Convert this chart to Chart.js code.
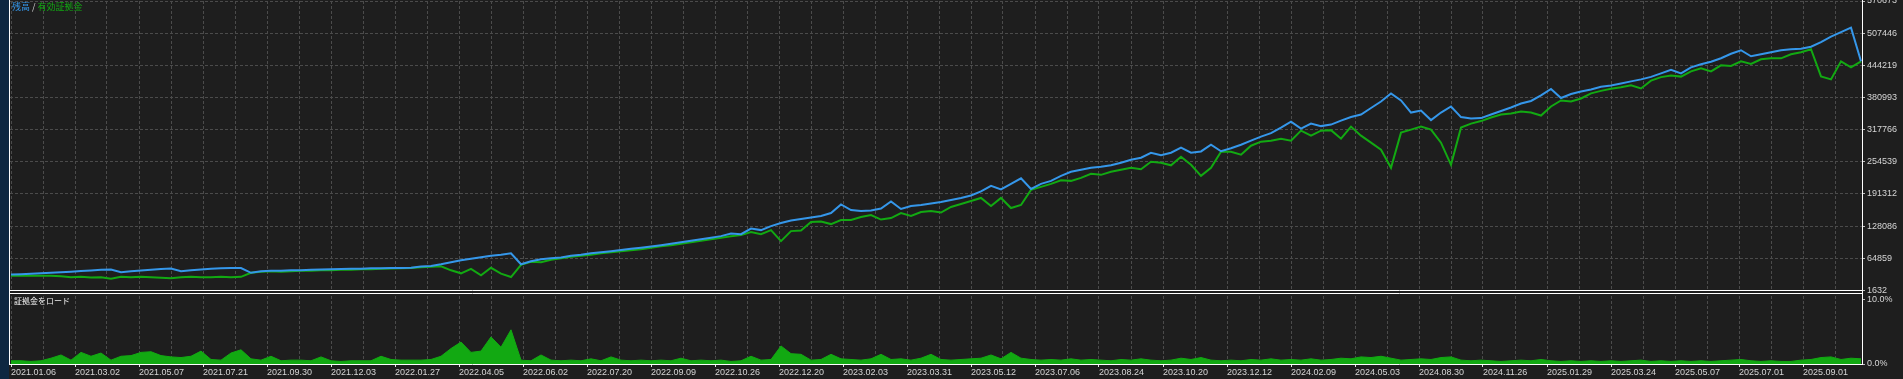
<!DOCTYPE html>
<html>
<head>
<meta charset="utf-8">
<script src="https://cdn.jsdelivr.net/npm/chart.js@4.4.1/dist/chart.umd.min.js"></script>
<style>
  html, body { margin: 0; padding: 0; background: #1e1e1e; overflow: hidden; width: 1903px; height: 379px; }
  #wrap { position: absolute; left: 0; top: -7px; width: 1903px; height: 386px; }
  canvas { display: block; }
</style>
</head>
<body>
<div id="wrap"><canvas id="c" width="1903" height="386"></canvas></div>
<script>
// ---------- data ----------
const DATE_LABELS = [
  '2021.01.06','2021.03.02','2021.05.07','2021.07.21','2021.09.30','2021.12.03','2022.01.27',
  '2022.04.05','2022.06.02','2022.07.20','2022.09.09','2022.10.26','2022.12.20','2023.02.03',
  '2023.03.31','2023.05.12','2023.07.06','2023.08.24','2023.10.20','2023.12.12','2024.02.09',
  '2024.05.03','2024.08.30','2024.11.26','2025.01.29','2025.03.24','2025.05.07','2025.07.01',
  '2025.09.01'
];
const PRICE_TICKS = [1632, 64859, 128086, 191312, 254539, 317766, 380993, 444219, 507446, 570673];
const LOAD_TICKS = [0, 10];

// balance (残高)
const BALANCE = [
  32652, 33245, 34233, 35221, 36209, 37196, 38184, 39567, 40753, 42136,
  42531, 37196, 39172, 40555, 42136, 43519, 44507, 39172, 41148, 42531,
  44112, 45100, 45692, 45692, 36209, 39172, 40160, 40160, 41148, 41148,
  42136, 42531, 43124, 43717, 44112, 44112, 45100, 45100, 45692, 45692,
  46088, 48458, 49644, 53003, 56954, 60906, 63870, 66833, 69797, 71773,
  74737, 53003, 58930, 62882, 64858, 66241, 69797, 71773, 74737, 76712,
  78688, 81059, 83628, 85604, 87974, 90543, 93507, 96470, 99434, 102398,
  105362, 108325, 113265, 112277, 123144, 120180, 128083, 134011, 138950, 141914,
  144878, 147841, 153769, 170563, 159696, 157720, 158708, 162660, 176490, 161672,
  167599, 169575, 172539, 175502, 179454, 183406, 188345, 196248, 207115, 200200,
  211067, 221934, 201188, 211067, 216994, 226873, 234776, 238728, 242680, 244655,
  247619, 252559, 258486, 262438, 272317, 267377, 272317, 282196, 272317, 274885,
  288123, 275280, 281208, 288123, 296026, 303929, 310845, 321712, 333566, 319736,
  329615, 324675, 327639, 335542, 342458, 347397, 360240, 373082, 388889, 375058,
  351349, 355300, 336530, 351349, 363203, 342458, 339494, 340482, 347397, 354312,
  361228, 369131, 374070, 384937, 397780, 379998, 387901, 392840, 396792, 402127,
  404695, 408647, 412598, 416550, 421490, 428405, 435320, 428405, 440260, 446187,
  451127, 458042, 466933, 473848, 461993, 465945, 469897, 473848, 475824, 476812,
  480764, 489655, 500522, 509413, 518304, 452114
];

// equity (有効証拠金)
const EQUITY = [
  30676, 30676, 30281, 30281, 30676, 29293, 27317, 28305, 26922, 27317,
  24749, 28305, 27713, 28305, 27317, 26330, 25737, 27317, 28305, 27317,
  27713, 28305, 27317, 28305, 36209, 38184, 39172, 38184, 39172, 40160,
  40160, 41148, 41148, 42136, 42136, 43124, 43124, 44112, 44704, 45100,
  45692, 47075, 48063, 49051, 41148, 35221, 44112, 31269, 46088, 34628,
  27910, 52015, 57942, 56954, 61894, 64858, 67821, 69797, 71773, 74737,
  76712, 78688, 80664, 82640, 85604, 88567, 90543, 93507, 96470, 99434,
  102398, 105362, 108325, 110301, 116228, 112277, 120180, 98446, 118204, 119192,
  135986, 136974, 132035, 139938, 139938, 145865, 149817, 140926, 143890, 153769,
  147841, 155744, 157720, 154757, 165623, 171551, 177478, 183406, 167599, 183406,
  163648, 169575, 199212, 205139, 211067, 217982, 216994, 222922, 230825, 228849,
  234776, 238728, 242680, 239716, 254534, 252559, 247619, 264413, 248607, 226873,
  242680, 274292, 274292, 268365, 286147, 294050, 296026, 299978, 296026, 315784,
  305905, 315784, 316772, 299978, 323687, 305905, 292075, 278244, 242680, 311833,
  317760, 323687, 317760, 292075, 248607, 321712, 329615, 334554, 341470, 347397,
  349373, 353324, 351349, 345421, 363203, 375058, 373082, 379010, 389000, 394000,
  398000, 401000, 405000, 398768, 414000, 421000, 424000, 422000, 432356, 438284,
  432356, 444211, 443000, 452114, 447000, 456066, 458042, 458000, 465945, 469897,
  475824, 422477, 416550, 452114, 440260, 452114
];

// deposit load, percent (証拠金をロード)
const LOAD = [
  0.5, 0.5, 0.4, 0.5, 0.9, 1.4, 0.6, 1.8, 1.2, 1.7,
  0.6, 1.2, 1.3, 1.8, 1.9, 1.3, 1.1, 1.0, 1.2, 2.0,
  0.7, 0.6, 1.7, 2.2, 0.8, 0.6, 1.2, 0.5, 0.6, 0.6,
  0.5, 1.1, 0.5, 0.4, 0.5, 0.5, 0.5, 1.2, 0.7, 0.6,
  0.6, 0.6, 0.7, 1.2, 2.4, 3.4, 1.8, 2.0, 4.2, 2.6,
  5.3, 0.6, 0.5, 1.4, 0.6, 0.5, 0.6, 0.5, 0.8, 0.5,
  1.1, 0.6, 0.5, 0.6, 0.5, 0.6, 0.5, 0.9, 0.5, 0.6,
  0.5, 0.6, 0.4, 0.5, 1.2, 0.6, 0.7, 2.8, 1.6, 1.5,
  0.6, 0.7, 1.5, 0.8, 0.7, 0.6, 0.8, 1.5, 0.7, 0.8,
  0.6, 0.9, 1.5, 0.7, 0.6, 0.7, 0.8, 0.9, 1.4, 0.8,
  1.8, 0.9, 0.7, 0.6, 0.7, 0.6, 0.8, 0.6, 0.7, 0.6,
  0.5, 0.7, 0.6, 0.8, 0.6, 0.5, 0.6, 0.9, 0.7, 1.0,
  0.6, 0.5, 0.6, 0.5, 0.7, 0.6, 0.8, 0.6, 0.7, 0.6,
  0.8, 0.6, 0.7, 0.9, 0.8, 1.1, 1.0, 1.2, 0.9, 0.6,
  0.7, 0.8, 0.7, 1.0, 1.1, 0.6, 0.5, 0.6, 0.5, 0.4,
  0.5, 0.6, 0.5, 0.7, 0.5, 0.4, 0.5, 0.4, 0.5, 0.4,
  0.5, 0.4, 0.5, 0.6, 0.4, 0.5, 0.4, 0.5, 0.4, 0.5,
  0.4, 0.5, 0.6, 0.7, 0.5, 0.4, 0.5, 0.4, 0.4, 0.6,
  0.7, 1.0, 1.1, 0.7, 0.9, 0.8
];

// ---------- styling ----------
const BG = '#1e1e1e';
const GRID = '#4b4b4b';
const TEXT = '#d6d6d6';
const BLUE = '#3597ea';
const GREEN = '#12a912';
const AXIS_FONT = { family: '"Liberation Sans", Arial, sans-serif', size: 9 };
const CJK = '"Noto Sans CJK JP", "Noto Sans CJK SC", sans-serif';

const N = BALANCE.length;
const GRID_STEP = 3.2;               // samples between vertical grid lines
const gridValues = [];
for (let k = 0; k * GRID_STEP <= N - 1; k++) gridValues.push(+(k * GRID_STEP).toFixed(3));

const toXY = arr => arr.map((v, i) => ({ x: i, y: v }));

const framePlugin = {
  id: 'frame',
  beforeDraw(chart) {
    const { ctx, width, height } = chart;
    ctx.save();
    ctx.fillStyle = BG;
    ctx.fillRect(0, 0, width, height);
    ctx.fillStyle = '#0e2741';
    ctx.fillRect(0, 0, 9, height);
    ctx.restore();
  },
  afterDatasetsDraw(chart) {
    const { ctx, chartArea: a, scales } = chart;
    const sep = Math.floor(scales.yMain.bottom);
    ctx.save();
    // separator between panels
    ctx.fillStyle = BG;
    ctx.fillRect(a.left, sep + 1, a.right - a.left, 2);
    ctx.strokeStyle = '#ffffff';
    ctx.lineWidth = 1;
    ctx.beginPath();
    ctx.moveTo(a.left - 1, sep + 0.5); ctx.lineTo(a.right + 1, sep + 0.5);
    ctx.moveTo(a.left - 1, sep + 3.5); ctx.lineTo(a.right + 1, sep + 3.5);
    // left / right / bottom frame
    ctx.moveTo(a.left - 0.5, 0); ctx.lineTo(a.left - 0.5, a.bottom + 1);
    ctx.moveTo(a.right + 0.5, 0); ctx.lineTo(a.right + 0.5, a.bottom + 1);
    ctx.moveTo(a.left - 1, a.bottom + 0.5); ctx.lineTo(a.right + 1, a.bottom + 0.5);
    ctx.stroke();

    // panel captions
    ctx.font = '9px ' + CJK;
    ctx.textBaseline = 'middle';
    ctx.textAlign = 'left';
    let x = a.left + 2;
    const y = a.top + 6;
    ctx.fillStyle = BLUE; ctx.fillText('残高', x, y); x += ctx.measureText('残高').width;
    ctx.fillStyle = '#d0d0d0'; ctx.fillText(' / ', x, y); x += ctx.measureText(' / ').width;
    ctx.fillStyle = GREEN; ctx.fillText('有効証拠金', x, y);
    ctx.fillStyle = '#f0f0f0';
    ctx.font = '8px ' + CJK;
    ctx.fillText('証拠金をロード', a.left + 4, sep + 11);
    ctx.restore();
  }
};

new Chart(document.getElementById('c'), {
  type: 'line',
  data: {
    datasets: [
      { label: '残高', data: toXY(BALANCE), xAxisID: 'x', yAxisID: 'yMain',
        borderColor: BLUE, borderWidth: 2, pointRadius: 0, tension: 0, fill: false },
      { label: '有効証拠金', data: toXY(EQUITY), xAxisID: 'x', yAxisID: 'yMain',
        borderColor: GREEN, borderWidth: 2, pointRadius: 0, tension: 0, fill: false },
      { label: '証拠金をロード', data: toXY(LOAD), xAxisID: 'x', yAxisID: 'yLoad',
        borderColor: GREEN, backgroundColor: GREEN, borderWidth: 1, pointRadius: 0,
        tension: 0, fill: 'origin' }
    ]
  },
  options: {
    responsive: false,
    animation: false,
    devicePixelRatio: 1,
    events: [],
    layout: { padding: { left: 10, top: 8, right: 0, bottom: 0 } },
    plugins: { legend: { display: false }, tooltip: { enabled: false }, title: { display: false } },
    scales: {
      x: {
        type: 'linear', min: -0.1, max: N - 0.9,
        afterBuildTicks: s => { s.ticks = gridValues.map(v => ({ value: v })); },
        afterFit: s => { s.height = 15; },
        grid: { color: GRID, lineWidth: 1, drawTicks: true, tickLength: 3,
                tickColor: c => (c.index % 2 === 0 ? '#e6e6e6' : 'rgba(0,0,0,0)') },
        border: { display: false, dash: [3, 2] },
        ticks: { autoSkip: false, maxRotation: 0, minRotation: 0, align: 'start', padding: 0,
                 color: TEXT, font: AXIS_FONT,
                 callback: (v, i) => (i % 2 === 0 ? (DATE_LABELS[i / 2] || '') : '') }
      },
      yMain: {
        type: 'linear', position: 'right', stack: 'panels', stackWeight: 289.4,
        min: PRICE_TICKS[0], max: PRICE_TICKS[PRICE_TICKS.length - 1],
        afterBuildTicks: s => { s.ticks = PRICE_TICKS.map(v => ({ value: v })); },
        afterFit: s => { s.width = 41; },
        grid: { color: GRID, lineWidth: 1, drawTicks: true, tickLength: 3, tickColor: '#bdbdbd' },
        border: { display: false, dash: [3, 2] },
        ticks: { autoSkip: false, padding: 2, color: TEXT, font: AXIS_FONT, callback: v => String(v) }
      },
      yLoad: {
        type: 'linear', position: 'right', stack: 'panels', stackWeight: 73.6,
        min: 0, max: 11.41,
        afterBuildTicks: s => { s.ticks = LOAD_TICKS.map(v => ({ value: v })); },
        afterFit: s => { s.width = 41; },
        grid: { drawOnChartArea: false, drawTicks: true, tickLength: 3, tickColor: '#bdbdbd' },
        border: { display: false },
        ticks: { autoSkip: false, padding: 2, color: TEXT, font: AXIS_FONT,
                 callback: v => v.toFixed(1) + '%' }
      }
    }
  },
  plugins: [framePlugin]
});
</script>
</body>
</html>
